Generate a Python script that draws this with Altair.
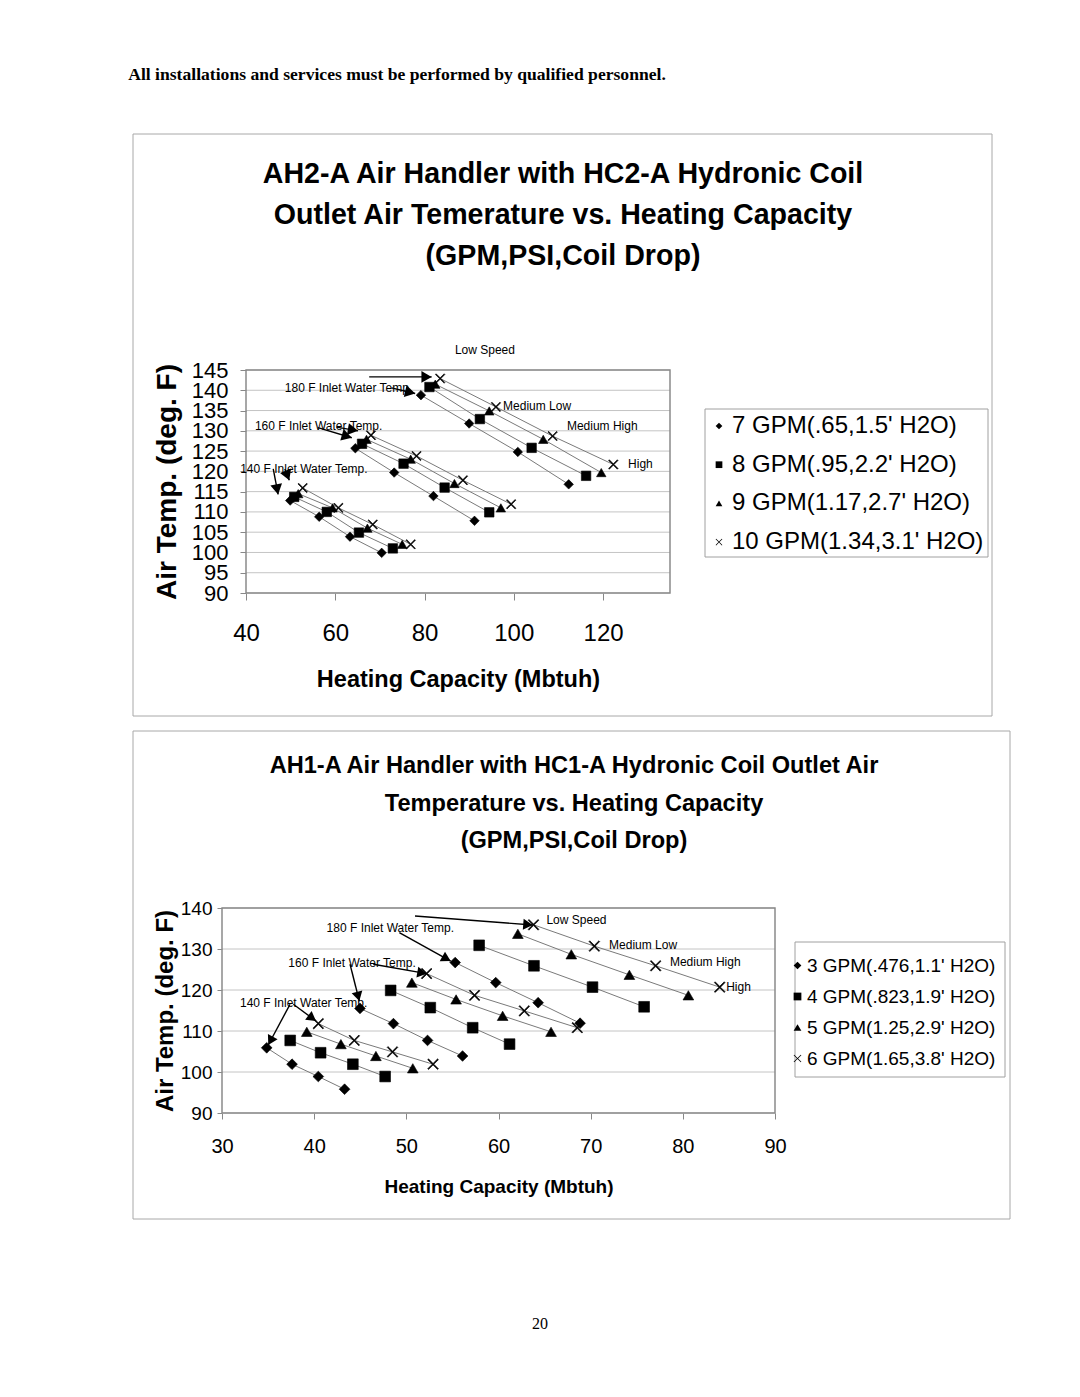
import math
import altair as alt
import pandas as pd

FONT = "Liberation Sans"
TITLE_FONT = "Liberation Sans"
SERIF = "Liberation Serif"

SPEEDS = ["Low", "Medium Low", "Medium High", "High"]
TEMPS = ["180 F", "160 F", "140 F"]
XMARK = ("M-1,-0.85L-0.85,-1L0,-0.15L0.85,-1L1,-0.85L0.15,0L1,0.85L0.85,1L0,0.15"
         "L-0.85,1L-1,0.85L-0.15,0Z")
SHAPES = ["diamond", "square", "triangle-up", XMARK]

HEADER = "All installations and services must be performed by qualified personnel."
PAGE_NO = "20"

# ---------------- top chart : AH2-A / HC2-A ----------------
TOP_TITLE = ["AH2-A Air Handler with HC2-A Hydronic Coil",
             "Outlet Air Temerature vs. Heating Capacity",
             "(GPM,PSI,Coil Drop)"]
TOP_SERIES = ["7 GPM(.65,1.5' H2O)", "8 GPM(.95,2.2' H2O)",
              "9 GPM(1.17,2.7' H2O)", "10 GPM(1.34,3.1' H2O)"]
# each list: 180 F (Low..High), 160 F (Low..High), 140 F (Low..High)
TOP_CAP = [
    [79.2, 90.0, 100.9, 112.3, 64.5, 73.2, 82.0, 91.2, 49.9, 56.4, 63.3, 70.4],
    [81.1, 92.4, 104.0, 116.2, 66.0, 75.3, 84.5, 94.5, 50.8, 58.1, 65.3, 72.9],
    [82.4, 94.5, 106.6, 119.6, 67.0, 76.9, 86.7, 97.1, 51.7, 59.4, 67.2, 75.0],
    [83.5, 96.0, 108.7, 122.3, 68.0, 78.2, 88.6, 99.4, 52.7, 60.7, 68.4, 76.9],
]
TOP_AIR = [
    [138.8, 131.8, 124.8, 116.8, 125.7, 119.7, 113.9, 107.8, 112.8, 108.8, 103.9, 99.9],
    [140.8, 132.9, 125.8, 118.9, 126.8, 121.9, 116.0, 109.9, 113.7, 110.0, 104.9, 101.0],
    [141.5, 134.9, 127.9, 119.7, 127.9, 123.0, 117.0, 111.0, 114.5, 111.0, 106.0, 102.0],
    [142.9, 135.9, 128.7, 121.7, 128.9, 123.8, 117.8, 111.9, 115.9, 111.0, 106.9, 102.0],
]
TOP_X_TICKS = [40, 60, 80, 100, 120]
TOP_Y_TICKS = [90, 95, 100, 105, 110, 115, 120, 125, 130, 135, 140, 145]
TOP_NOTE_TEXT = ["180 F Inlet Water Temp.", "160 F Inlet Water Temp.", "140 F Inlet Water Temp.",
                 "Low Speed", "Medium  Low", "Medium High", "High"]
TOP_NOTE_X = [48.7, 42.0, 38.7, 86.8, 97.6, 111.9, 125.6]
TOP_NOTE_Y = [140.6, 131.2, 120.7, 149.9, 136.1, 131.2, 121.8]
TOP_ARROW_X1 = [67.6, 72.6, 56.1, 60.3, 46.1, 48.7]
TOP_ARROW_Y1 = [143.3, 140.6, 130.8, 130.9, 120.6, 120.6]
TOP_ARROW_X2 = [81.6, 77.9, 63.7, 65.1, 47.2, 49.7]
TOP_ARROW_Y2 = [143.3, 139.2, 128.3, 130.0, 114.3, 117.8]

# ---------------- bottom chart : AH1-A / HC1-A ----------------
BOT_TITLE = ["AH1-A Air Handler with HC1-A Hydronic Coil Outlet Air",
             "Temperature vs. Heating Capacity",
             "(GPM,PSI,Coil Drop)"]
BOT_SERIES = ["3 GPM(.476,1.1' H2O)", "4 GPM(.823,1.9' H2O)",
              "5 GPM(1.25,2.9' H2O)", "6 GPM(1.65,3.8' H2O)"]
BOT_CAP = [
    [55.3, 59.7, 64.3, 68.85, 44.97, 48.6, 52.3, 56.1, 34.85, 37.6, 40.45, 43.3],
    [57.9, 63.85, 70.2, 75.8, 48.3, 52.6, 57.2, 61.2, 37.4, 40.7, 44.2, 47.7],
    [62.1, 67.9, 74.2, 80.6, 50.6, 55.4, 60.45, 65.7, 39.2, 42.9, 46.7, 50.7],
    [63.8, 70.4, 77.05, 84.0, 52.2, 57.4, 62.8, 68.55, 40.45, 44.35, 48.5, 52.9],
]
BOT_AIR = [
    [126.7, 121.8, 116.9, 111.9, 115.5, 111.8, 107.7, 103.9, 105.9, 101.9, 98.9, 95.8],
    [130.9, 125.9, 120.7, 115.9, 119.9, 115.7, 110.8, 106.8, 107.7, 104.7, 101.9, 98.9],
    [133.7, 128.7, 123.7, 118.7, 121.8, 117.7, 113.7, 109.8, 109.8, 106.8, 103.9, 100.9],
    [135.9, 130.7, 125.9, 120.7, 124.0, 118.7, 114.9, 110.8, 111.8, 107.7, 104.9, 101.9],
]
BOT_X_TICKS = [30, 40, 50, 60, 70, 80, 90]
BOT_Y_TICKS = [90, 100, 110, 120, 130, 140]
BOT_NOTE_TEXT = ["180 F Inlet Water Temp.", "160 F Inlet Water Temp.", "140 F Inlet Water Temp.",
                 "Low Speed", "Medium Low", "Medium High", "High"]
BOT_NOTE_X = [41.35, 37.2, 31.95, 65.2, 72.0, 78.6, 84.7]
BOT_NOTE_Y = [135.2, 126.7, 116.9, 137.0, 131.0, 126.8, 120.8]
BOT_ARROW_X1 = [50.94, 49.24, 43.89, 46.42, 37.38, 37.74]
BOT_ARROW_Y1 = [138.05, 133.98, 126.27, 126.27, 116.51, 116.51]
BOT_ARROW_X2 = [63.71, 54.81, 44.90, 52.21, 35.02, 40.20]
BOT_ARROW_Y2 = [135.85, 127.07, 117.32, 123.98, 106.59, 112.44]


def panel(p):
    W, H, x0 = p["W"], p["H"], p["x0"]
    xdom, ydom = p["xdom"], p["ydom"]
    sx = (W - x0) / (xdom[1] - xdom[0])
    sy = H / (ydom[1] - ydom[0])

    rows = []
    for si, name in enumerate(p["series"]):
        for k in range(12):
            rows.append({"series": name, "temp": TEMPS[k // 4], "speed": SPEEDS[k % 4],
                         "order": k % 4, "grp": TEMPS[k // 4] + name,
                         "cap": p["cap"][si][k], "air": p["air"][si][k]})
    df = pd.DataFrame(rows)

    arrows = pd.DataFrame({"x1": p["ax1"], "y1": p["ay1"], "x2": p["ax2"], "y2": p["ay2"]})
    hh = 0.433 * math.sqrt(p["head"])
    hx, hy, ang = [], [], []
    for r in arrows.itertuples():
        dxp = (r.x2 - r.x1) * sx
        dyp = -(r.y2 - r.y1) * sy
        L = math.hypot(dxp, dyp)
        ux, uy = dxp / L, dyp / L
        hx.append(r.x2 - ux * hh / sx)
        hy.append(r.y2 + uy * hh / sy)
        ang.append(math.degrees(math.atan2(ux, -uy)) % 360)
    arrows["hx"], arrows["hy"], arrows["ang"] = hx, hy, ang

    notes = pd.DataFrame({"t": p["nt"], "x": p["nx"], "y": p["ny"]})
    grid = pd.DataFrame({"t": p["yticks"]})

    xs = alt.Scale(domain=xdom, range=[x0, W], nice=False, zero=False)
    ys = alt.Scale(domain=ydom, nice=False, zero=False)
    xa = alt.Axis(values=p["xticks"], title="Heating Capacity (Mbtuh)", grid=False, domain=False,
                  tickSize=p["xtick"], tickColor="#888888", labelFontSize=p["xlab"], labelFont=FONT,
                  labelColor="black", labelPadding=p["xlpad"], labelFlush=False, labelOverlap=False,
                  titleFont=FONT, titleFontSize=p["xtit"], titleFontWeight="bold", titleColor="black",
                  titlePadding=p["xtpad"], titleX=(x0 + W) / 2)
    ya = alt.Axis(values=p["yticks"], title="Air Temp. (deg. F)", grid=False, offset=-x0,
                  domain=False, tickSize=p["ytick"], tickColor="#888888", labelFontSize=p["ylab"],
                  labelFont=FONT, labelColor="black", labelPadding=p["ylpad"], labelFlush=False,
                  labelOverlap=False, titleFont=FONT, titleFontSize=p["ytit"], titleFontWeight="bold",
                  titleColor="black", titlePadding=p["ytpad"])
    X = lambda f: alt.X(f, type="quantitative", scale=xs, axis=xa)
    Y = lambda f: alt.Y(f, type="quantitative", scale=ys, axis=ya)

    one = pd.DataFrame({"k": [0]})

    def box(b, color, width):
        return alt.Chart(one).mark_rect(fill="white", fillOpacity=0, stroke=color,
                                        strokeWidth=width).encode(
            x=alt.value(b[0]), x2=alt.value(b[1]), y=alt.value(b[2]), y2=alt.value(b[3]))

    frame = box(p["frame"], "#a8a8a8", 1)
    ext = p["ext"]
    extent = alt.Chart(one).mark_rect(fill="white").encode(
        x=alt.value(ext[0]), x2=alt.value(ext[0] + 1), y=alt.value(ext[1]), y2=alt.value(ext[1] + 1))
    gridl = alt.Chart(grid).mark_rule(color="#c4c4c4", strokeWidth=1).encode(
        y=Y("t"), x=alt.value(x0), x2=alt.value(W))
    border = box([x0, W, 0, H], "#8a8a8a", 1.5)
    legbox = box(p["legbox"], "#a0a0a0", 1)

    lines = alt.Chart(df).mark_line(color="#7a7a7a", strokeWidth=1).encode(
        x=X("cap"), y=Y("air"), detail="grp:N", order="order:Q")
    rules = alt.Chart(arrows).mark_rule(color="black", strokeWidth=1.4).encode(
        x=X("x1"), y=Y("y1"), x2="x2:Q", y2="y2:Q")
    heads = alt.Chart(arrows).mark_point(shape="triangle-up", filled=True, color="black",
                                         size=p["head"], opacity=1).encode(
        x=X("hx"), y=Y("hy"), angle=alt.Angle("ang:Q", scale=None))
    pts = alt.Chart(df).mark_point(filled=True, fill="black", stroke="black", strokeWidth=0.6,
                                   size=p["msize"], opacity=1).encode(
        x=X("cap"), y=Y("air"),
        shape=alt.Shape("series:N", scale=alt.Scale(domain=p["series"], range=SHAPES),
                        legend=alt.Legend(title=None, orient="none", direction="vertical",
                                          legendX=p["lx"], legendY=p["ly"], labelFont=FONT,
                                          labelFontSize=p["lfs"], labelColor="black", labelLimit=600,
                                          symbolSize=p["lsym"], symbolFillColor="black",
                                          symbolStrokeColor="black", symbolStrokeWidth=0.5,
                                          rowPadding=p["lrow"], padding=0, labelOffset=p["loff"],
                                          strokeColor="transparent")))
    note = alt.Chart(notes).mark_text(font=FONT, fontSize=12, align="left", baseline="middle",
                                      color="black").encode(x=X("x"), y=Y("y"), text="t:N")
    title = alt.Chart(one).mark_text(text=p["title"], font=TITLE_FONT, fontWeight="bold",
                                     fontSize=p["tfs"], lineHeight=p["tlh"], align="center",
                                     baseline="middle", color="black").encode(
        x=alt.value(p["tx"]), y=alt.value(p["ty"]))
    layers = [frame, extent, gridl, border, legbox, lines, rules, heads, pts, note, title]
    for (txt, x, y, fs, fw) in p["extra"]:
        layers.append(alt.Chart(one).mark_text(text=txt, font=SERIF, fontSize=fs, fontWeight=fw,
                                               align="center", baseline="alphabetic", color="black")
                      .encode(x=alt.value(x), y=alt.value(y)))
    return alt.layer(*layers).properties(width=W, height=H)


# top panel: group origin at page x 222, plot starts 24 px to the right (x0)
top = panel(dict(
    W=448, H=223, x0=24, xdom=[40, 135], ydom=[90, 145], series=TOP_SERIES, cap=TOP_CAP, air=TOP_AIR,
    ax1=TOP_ARROW_X1, ay1=TOP_ARROW_Y1, ax2=TOP_ARROW_X2, ay2=TOP_ARROW_Y2, head=140,
    nt=TOP_NOTE_TEXT, nx=TOP_NOTE_X, ny=TOP_NOTE_Y, xticks=TOP_X_TICKS, yticks=TOP_Y_TICKS,
    xtick=7, xlab=24, xlpad=21, xtit=23.5, xtpad=22, ytick=6, ylab=22, ylpad=12, ytit=28, ytpad=10,
    msize=90, lx=485, ly=44, lfs=24, lsym=45, lrow=14.7, loff=1,
    legbox=[483, 766, 39, 187],
    title=TOP_TITLE, tfs=28.6, tlh=41, tx=341, ty=-196,
    frame=[-89, 770, -236, 346], ext=[-102, -309],
    extra=[(HEADER, 175, -290, 17.6, "bold")]))

bottom = panel(dict(
    W=553, H=205, x0=0, xdom=[30, 90], ydom=[90, 140], series=BOT_SERIES, cap=BOT_CAP, air=BOT_AIR,
    ax1=BOT_ARROW_X1, ay1=BOT_ARROW_Y1, ax2=BOT_ARROW_X2, ay2=BOT_ARROW_Y2, head=120,
    nt=BOT_NOTE_TEXT, nx=BOT_NOTE_X, ny=BOT_NOTE_Y, xticks=BOT_X_TICKS, yticks=BOT_Y_TICKS,
    xtick=6, xlab=20, xlpad=17, xtit=19, xtpad=21, ytick=5, ylab=19, ylpad=5, ytit=24, ytpad=3,
    msize=115, lx=566, ly=48, lfs=19, lsym=60, lrow=11, loff=0,
    legbox=[573, 783, 34, 169],
    title=BOT_TITLE, tfs=23.6, tlh=37.5, tx=352, ty=-142,
    frame=[-89, 788, -177, 311], ext=[-102, -177],
    extra=[(PAGE_NO, 318, 421, 16, "normal")]))

chart = alt.concat(top, bottom, columns=1, spacing=13).resolve_scale(
    shape="independent").resolve_legend(shape="independent").properties(
    padding={"left": 112, "top": 53, "right": 5, "bottom": 5}
).configure_view(strokeWidth=0)

chart.save("out.html", embed_options={"renderer": "svg", "actions": False})
